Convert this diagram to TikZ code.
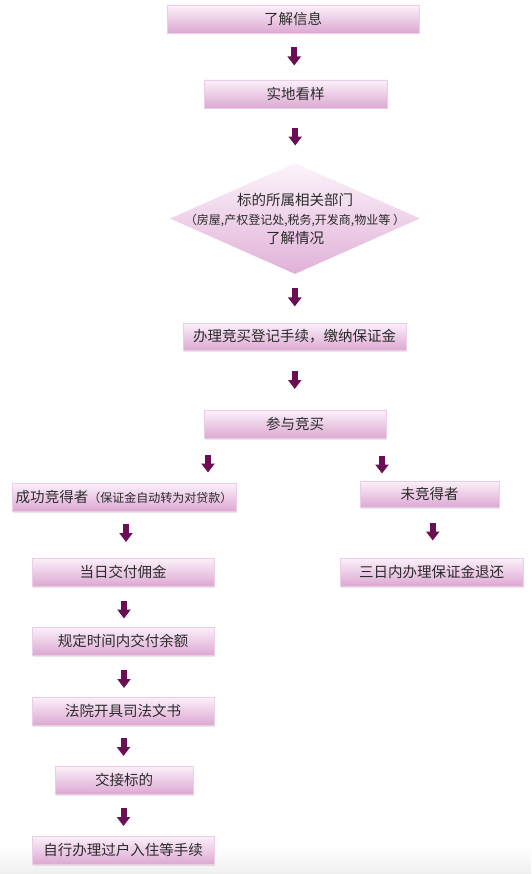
\documentclass[tikz,border=0pt]{standalone}
\usepackage{fontspec}
\newfontfamily\cjk{Noto Sans CJK SC}
\usetikzlibrary{shapes.geometric,arrows.meta,calc,shadows}
\definecolor{boxtop}{HTML}{FBF1F9}
\definecolor{boxbot}{HTML}{DDA8D3}
\definecolor{boxline}{HTML}{EBCDE5}
\definecolor{arrowc}{HTML}{6B0F55}
\definecolor{txt}{HTML}{2B2B2B}
\begin{document}
\begin{tikzpicture}[x=1pt,y=-1pt,
  every node/.style={font=\cjk\fontsize{14.5}{16}\selectfont, text=txt},
  stepbox/.style={rectangle, inner sep=0pt, top color=boxtop, bottom color=boxbot,
    draw=boxline, line width=0.5pt,
    drop shadow={shadow xshift=1pt, shadow yshift=-1.5pt, opacity=0.18, fill=gray}},
  dia/.style={diamond, inner sep=0pt, top color=boxtop!80!white, bottom color=boxbot!90!white,
    draw=none, minimum width=250pt, minimum height=111pt},
  barrow/.style={draw=arrowc, line width=6pt, -{Triangle[width=13pt,length=9pt]},
    to path={($(\tikztostart)!.5!(\tikztotarget)+(0,-9)$) -- ($(\tikztostart)!.5!(\tikztotarget)+(0,9)$)}}
]
\useasboundingbox (0,0) rectangle (531,874);
\shade[top color=white, bottom color=black!6] (0,846) rectangle (531,874);

\node[stepbox, minimum width=252pt, minimum height=28pt] (b1) at (293,19) {了解信息};
\node[stepbox, minimum width=183pt, minimum height=28pt] (b2) at (295.5,94) {实地看样};
\node[dia] (d) at (295,218.5) {};
\node[align=center, inner sep=0pt] (dt) at (295,219) {标的所属相关部门\\[3pt]{\fontsize{12}{14}\selectfont（房屋,产权登记处,税务,开发商,物业等 ）}\\[3pt]了解情况};
\node[stepbox, minimum width=223pt, minimum height=27pt] (b3) at (294.5,336.5) {办理竞买登记手续，缴纳保证金};
\node[stepbox, minimum width=182pt, minimum height=28pt] (b4) at (295,424) {参与竞买};
\node[stepbox, minimum width=224pt, minimum height=28pt] (win) at (124,497) {成功竞得者{\fontsize{12}{14}\selectfont（保证金自动转为对贷款）}};
\node[stepbox, minimum width=139pt, minimum height=26pt] (lose) at (429.5,494) {未竞得者};
\node[stepbox, minimum width=183pt, minimum height=28pt] (ret) at (431.5,572) {三日内办理保证金退还};
\node[stepbox, minimum width=182pt, minimum height=28pt] (c1) at (123,572) {当日交付佣金};
\node[stepbox, minimum width=182pt, minimum height=28pt] (c2) at (123,641) {规定时间内交付余额};
\node[stepbox, minimum width=182pt, minimum height=28pt] (c3) at (123,711) {法院开具司法文书};
\node[stepbox, minimum width=138pt, minimum height=28pt] (c4) at (124,780) {交接标的};
\node[stepbox, minimum width=182pt, minimum height=28pt] (c5) at (123,850) {自行办理过户入住等手续};

\coordinate (lx) at (208,0);
\coordinate (rx) at (382,0);

\draw[barrow] (b1.south) to (b2.north);
\draw[barrow] (b2.south) to ([yshift=-2pt]d.north);
\draw[barrow] (d.south) to ([yshift=2pt]b3.north);
\draw[barrow] (b3.south) to (b4.north);
\draw[barrow] (b4.south -| lx) to ([yshift=-6pt]win.north -| lx);
\draw[barrow] (b4.south -| rx) to ([yshift=-10pt]lose.north -| rx);
\draw[barrow] ([xshift=2pt]win.south) to ([xshift=3pt,yshift=3pt]c1.north);
\draw[barrow] ([xshift=4.5pt]lose.south) to ([yshift=2pt]ret.north);
\draw[barrow] ([xshift=1pt]c1.south) to ([xshift=1pt,yshift=-6pt]c2.north);
\draw[barrow] ([xshift=1pt]c2.south) to ([xshift=1pt,yshift=-6pt]c3.north);
\draw[barrow] (c3.south) to ([yshift=-3pt]c4.north);
\draw[barrow] (c4.south) to ([yshift=-4pt]c5.north);
\end{tikzpicture}
\end{document}
